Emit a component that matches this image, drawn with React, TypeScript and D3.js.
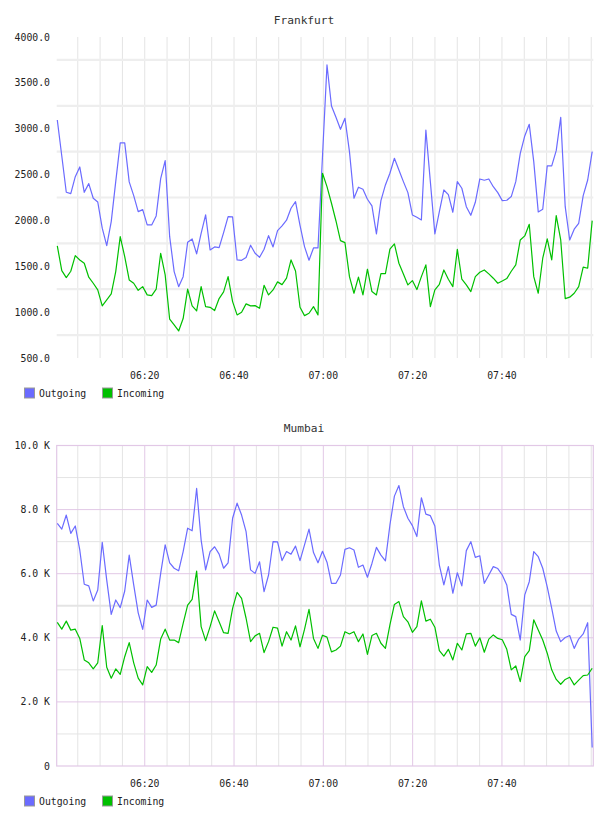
import React from "react";
import * as d3 from "d3";

// Sampling: one reading roughly every minute, starting just after 06:00.
const FIRST_SAMPLE = new Date(2024, 0, 1, 6, 0, 25);
const STEP_MS = 60400;

const frankfurtOutgoing = [
  3095, 2703, 2307, 2292, 2477, 2583, 2307, 2401, 2242, 2201, 1915, 1725, 1987, 2423, 2845, 2845, 2420, 2270, 2096, 2118, 1951, 1951, 2049, 2456, 2652, 1823, 1442, 1278, 1387, 1762,
  1798, 1635, 1860, 2060, 1678, 1711, 1704, 1867, 2041, 2038, 1569, 1565, 1595, 1730, 1642, 1598, 1686, 1834, 1711, 1889, 1940, 2002, 2133, 2205, 1947, 1715, 1566, 1700, 1700, 2700,
  3695, 3248, 3124, 2994, 3113, 2750, 2242, 2362, 2340, 2231, 2158, 1853, 2216, 2387, 2514, 2678, 2550, 2423, 2303, 2060, 2035, 2005, 2986, 2420, 1853, 2096, 2332, 2281, 2089, 2423,
  2351, 2150, 2056, 2198, 2452, 2438, 2452, 2368, 2303, 2216, 2220, 2260, 2423, 2732, 2921, 3048, 2641, 2093, 2122, 2594, 2594, 2761, 3124, 2150, 1787, 1904, 1969, 2270, 2441, 2750,
];

const frankfurtIncoming = [
  1722, 1453, 1377, 1446, 1616, 1569, 1533, 1381, 1315, 1242, 1068, 1133, 1199, 1442, 1823, 1605, 1351, 1315, 1238, 1278, 1188, 1180, 1250, 1642, 1406, 923, 861, 795, 930, 1250,
  1068, 1013, 1278, 1060, 1053, 1017, 1148, 1221, 1387, 1115, 970, 999, 1090, 1068, 1071, 1042, 1293, 1188, 1242, 1330, 1300, 1370, 1569, 1449, 1053, 962, 988, 1060, 970,
  2514, 2368, 2187, 1994, 1780, 1758, 1387, 1206, 1381, 1188, 1468, 1224, 1188, 1420, 1420, 1686, 1744, 1533, 1416, 1297, 1344, 1246, 1387, 1515, 1060, 1242, 1304, 1460, 1359, 1278,
  1685, 1359, 1297, 1224, 1387, 1435, 1460, 1417, 1370, 1315, 1340, 1366, 1446, 1515, 1787, 1831, 1958, 1387, 1206, 1588, 1798, 1569, 2052, 1787, 1148, 1163, 1206, 1278, 1490, 1479, 1998,
];

const mumbaiOutgoing = [
  7570, 7390, 7830, 7260, 7490, 6740, 5670, 5620, 5150, 5490, 6980, 5800, 4730, 5180, 4940, 5460, 6580, 5650, 4780, 4260, 5180, 4950, 5020, 6010, 6900, 6340, 6170, 6090, 6690, 7420,
  7340, 8660, 7050, 6120, 6690, 6840, 6610, 6170, 6340, 7730, 8200, 7830, 7310, 6120, 6010, 6370, 5440, 5960, 7000, 6990, 6410, 6690, 6610, 6860, 6410, 6900, 7390, 6660, 6340, 6700,
  6360, 5700, 5700, 5960, 6760, 6810, 6740, 6200, 6270, 5890, 6320, 6820, 6580, 6400, 7520, 8420, 8750, 8090, 7730, 7500, 7160, 8370, 7860, 7810, 7490, 6270, 5650, 6220, 5390, 6030,
  5620, 6720, 7000, 6510, 6560, 5700, 5960, 6220, 6160, 5960, 5650, 4730, 4660, 3930, 5340, 5750, 6690, 6530, 6170, 5590, 4920, 4210, 3880, 4010, 4070, 3670, 3960, 4120, 4470, 580,
];

const mumbaiIncoming = [
  4480, 4270, 4520, 4240, 4270, 3980, 3310, 3220, 3030, 3220, 4380, 3080, 2740, 3030, 2860, 3410, 3850, 3220, 2740, 2530, 3100, 2920, 3150, 3960, 4270, 3930, 3930, 3850, 4450, 5020,
  5200, 6080, 4350, 3910, 4350, 4840, 4500, 4160, 4140, 4920, 5420, 5230, 4610, 3880, 4060, 4140, 3540, 3880, 4330, 4300, 3740, 4190, 3930, 4370, 3720, 4260, 4890, 3980, 3670, 4080,
  4020, 3560, 3620, 3740, 4190, 4120, 4190, 3880, 4120, 3480, 4070, 4140, 3830, 3670, 4400, 5040, 5130, 4660, 4500, 4170, 4350, 5150, 4520, 4580, 4330, 3600, 3430, 3640, 3310, 3830,
  3620, 4120, 4140, 3740, 4000, 3550, 3960, 4090, 3980, 3940, 3640, 3000, 3120, 2630, 3410, 3600, 4560, 4240, 3930, 3520, 3000, 2700, 2550, 2700, 2770, 2530, 2680, 2820, 2840, 3050,
];

const seriesNames = ["Outgoing", "Incoming"];
const seriesColors = ["#6b6bff", "#00c000"];

const frankfurtTicks = [500, 1000, 1500, 2000, 2500, 3000, 3500, 4000];
const frankfurtGrid = [750, 1250, 1750, 2250, 2750, 3250, 3750];
const mumbaiTicks = [0, 2000, 4000, 6000, 8000, 10000];
const mumbaiMinorGrid = [1000, 3000, 5000, 7000, 9000];
const timeTickLabels = ["06:20", "06:40", "07:00", "07:20", "07:40"];

const WIDTH = 608;
const HEIGHT = 816;
const PLOT_LEFT = 56.7;
const PLOT_RIGHT = 593.3;
const FONT = "'DejaVu Sans Mono', monospace";

const sampleTimes = frankfurtOutgoing.map(
  (_, i) => new Date(FIRST_SAMPLE.getTime() + i * STEP_MS)
);

const x = d3
  .scaleTime()
  .domain([
    new Date(FIRST_SAMPLE.getTime() - 8000),
    new Date(sampleTimes[sampleTimes.length - 1].getTime() + 15000),
  ])
  .range([PLOT_LEFT, PLOT_RIGHT]);

const parseHM = d3.timeParse("%H:%M");
const timeTicks = timeTickLabels.map((s) => {
  const p = parseHM(s)!;
  return new Date(2024, 0, 1, p.getHours(), p.getMinutes());
});
const minorTimes = d3.timeMinute
  .every(5)!
  .range(x.domain()[0], x.domain()[1])
  .filter((t) => x(t) > PLOT_LEFT + 2 && x(t) < PLOT_RIGHT - 2);

type ChartProps = {
  title: string;
  top: number;
  bottom: number;
  domain: [number, number];
  ticks: number[];
  format: (v: number) => string;
  outgoing: number[];
  incoming: number[];
  framed: boolean;
  minorGrid: number[];
};

function Chart(p: ChartProps) {
  const y = d3.scaleLinear().domain(p.domain).range([p.bottom, p.top]);
  const line = (vals: number[]) =>
    d3
      .line<number>()
      .x((_, i) => x(sampleTimes[i]))
      .y((v) => y(v))(vals) || "";
  const isMajorTime = (t: Date) =>
    timeTicks.some((m) => m.getTime() === t.getTime());
  const gray = "#e4e4e4";
  const pink = "#e2c8e6";
  const legendY = p.bottom + 35;
  return (
    <g>
      <text
        x={WIDTH / 2}
        y={p.top - 17}
        textAnchor="middle"
        dominantBaseline="central"
        fontFamily={FONT}
        fontSize={11.2}
        fill="#333"
      >
        {p.title}
      </text>
      {/* vertical grid every five minutes */}
      {minorTimes.map((t, i) => (
        <line
          key={"v" + i}
          x1={x(t)}
          x2={x(t)}
          y1={p.top}
          y2={p.bottom}
          stroke={p.framed && isMajorTime(t) ? pink : gray}
          strokeWidth={1}
        />
      ))}
      {/* horizontal grid */}
      {p.minorGrid.map((v, i) => (
        <line
          key={"h" + i}
          x1={PLOT_LEFT}
          x2={PLOT_RIGHT}
          y1={y(v)}
          y2={y(v)}
          stroke={p.framed ? gray : "#eeeeee"}
          strokeWidth={p.framed ? (v === 5000 ? 2 : 1) : 2.2}
        />
      ))}
      {p.framed &&
        p.ticks
          .filter((v) => v !== p.domain[0] && v !== p.domain[1])
          .map((v, i) => (
            <line
              key={"m" + i}
              x1={PLOT_LEFT}
              x2={PLOT_RIGHT}
              y1={y(v)}
              y2={y(v)}
              stroke={pink}
              strokeWidth={1}
            />
          ))}
      {p.framed && (
        <rect
          x={PLOT_LEFT}
          y={p.top}
          width={PLOT_RIGHT - PLOT_LEFT}
          height={p.bottom - p.top}
          fill="none"
          stroke={pink}
          strokeWidth={1.2}
        />
      )}
      <path d={line(p.outgoing)} fill="none" stroke={seriesColors[0]} strokeWidth={1.2} strokeLinejoin="round" />
      <path d={line(p.incoming)} fill="none" stroke={seriesColors[1]} strokeWidth={1.2} strokeLinejoin="round" />
      {/* y labels */}
      {p.ticks.map((v, i) => (
        <text
          key={"yl" + i}
          x={50}
          y={y(v)}
          textAnchor="end"
          dominantBaseline="central"
          fontFamily={FONT}
          fontSize={9.8}
          fill="#222"
        >
          {p.format(v)}
        </text>
      ))}
      {/* x labels */}
      {timeTicks.map((t, i) => (
        <text
          key={"xl" + i}
          x={x(t)}
          y={p.bottom + 17}
          textAnchor="middle"
          dominantBaseline="central"
          fontFamily={FONT}
          fontSize={9.8}
          fill="#222"
        >
          {timeTickLabels[i]}
        </text>
      ))}
      {/* legend */}
      {seriesNames.map((name, i) => (
        <g key={"lg" + i} transform={`translate(${24.5 + i * 78},${legendY - 5})`}>
          <rect width={10} height={10} fill={seriesColors[i]} stroke="#999" strokeWidth={1} />
          <text
            x={14.5}
            y={5}
            dominantBaseline="central"
            fontFamily={FONT}
            fontSize={9.8}
            fill="#222"
          >
            {name}
          </text>
        </g>
      ))}
    </g>
  );
}

export default function App() {
  return (
    <svg
      width={WIDTH}
      height={HEIGHT}
      style={{ position: "absolute", left: 0, top: 0, background: "#fff" }}
    >
      <rect width={WIDTH} height={HEIGHT} fill="#fff" />
      <Chart
        title="Frankfurt"
        top={37}
        bottom={358}
        domain={[500, 4000]}
        ticks={frankfurtTicks}
        format={(v) => d3.format(".1f")(v)}
        outgoing={frankfurtOutgoing}
        incoming={frankfurtIncoming}
        framed={false}
        minorGrid={frankfurtGrid}
      />
      <Chart
        title="Mumbai"
        top={445.5}
        bottom={766}
        domain={[0, 10000]}
        ticks={mumbaiTicks}
        format={(v) => (v === 0 ? "0" : d3.format(".1f")(v / 1000) + " K")}
        outgoing={mumbaiOutgoing}
        incoming={mumbaiIncoming}
        framed={true}
        minorGrid={mumbaiMinorGrid}
      />
    </svg>
  );
}
